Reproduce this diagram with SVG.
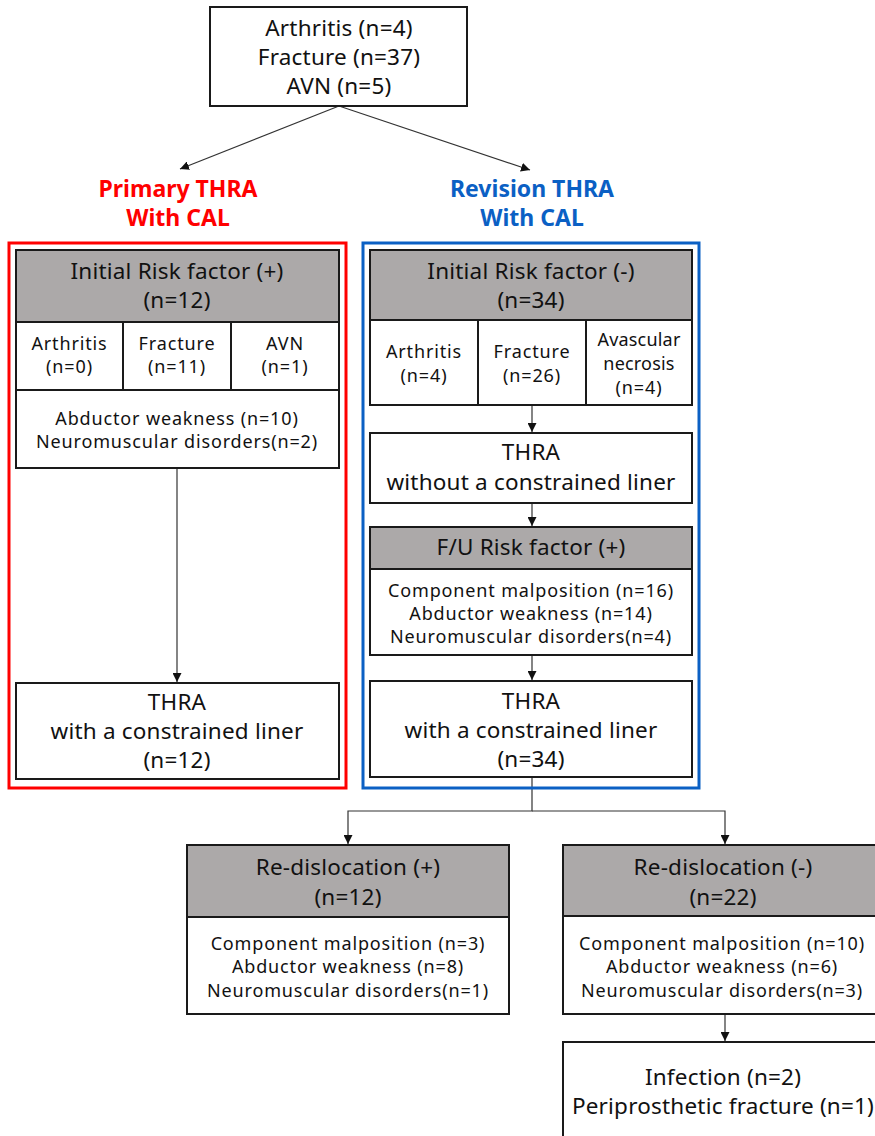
<svg xmlns="http://www.w3.org/2000/svg" width="875" height="1136" viewBox="0 0 875 1136">
<style>
text{font-family:"Noto Sans","Liberation Sans",sans-serif;fill:#111;text-anchor:middle}
.b{fill:#fff;stroke:#1a1a1a;stroke-width:2}
.g{fill:#aca9a9;stroke:#1a1a1a;stroke-width:2}
.L{font-size:22.5px;letter-spacing:0.2px}
.S{font-size:18px;letter-spacing:0.85px}
.c{fill:none;stroke:#333;stroke-width:1.2}
.ttl{font-size:23px;font-weight:bold}
</style>
<defs>
<marker id="ah" viewBox="0 0 10 10" refX="10" refY="5" markerWidth="9" markerHeight="9" markerUnits="userSpaceOnUse" orient="auto">
<path d="M0,0 L10,5 L0,10 z" fill="#111"/>
</marker>
</defs>
<rect width="875" height="1136" fill="#fff"/>

<g id="connectors">
<line class="c" x1="339" y1="106" x2="180" y2="169" marker-end="url(#ah)"/>
<line class="c" x1="339" y1="106" x2="530" y2="170" marker-end="url(#ah)"/>
<line class="c" x1="177" y1="468" x2="177" y2="682" marker-end="url(#ah)"/>
<line class="c" x1="532" y1="405" x2="532" y2="432" marker-end="url(#ah)"/>
<line class="c" x1="532" y1="503" x2="532" y2="526" marker-end="url(#ah)"/>
<line class="c" x1="532" y1="655" x2="532" y2="680" marker-end="url(#ah)"/>
<polyline class="c" points="532,777 532,811 348,811 348,844" marker-end="url(#ah)"/>
<polyline class="c" points="532,811 725,811 725,844" marker-end="url(#ah)"/>
<line class="c" x1="725" y1="1014" x2="725" y2="1041" marker-end="url(#ah)"/>
</g>

<g id="top">
<rect class="b" x="210" y="7" width="257" height="99"/>
<text class="L" x="339" y="36">Arthritis (n=4)</text>
<text class="L" x="339" y="65">Fracture (n=37)</text>
<text class="L" x="339" y="94">AVN (n=5)</text>
</g>

<g id="primary-label">
<text class="ttl" x="178" y="197" style="fill:#ff0000">Primary THRA</text>
<text class="ttl" x="178" y="226" style="fill:#ff0000">With CAL</text>
</g>
<g id="revision-label">
<text class="ttl" x="532" y="197" style="fill:#0b60c4">Revision THRA</text>
<text class="ttl" x="532" y="226" style="fill:#0b60c4">With CAL</text>
</g>

<g id="primary-frame">
<rect x="9" y="243" width="337" height="545" fill="none" stroke="#ff0000" stroke-width="3"/>
</g>
<g id="revision-frame">
<rect x="363" y="243" width="336" height="545" fill="none" stroke="#0b60c4" stroke-width="3"/>
</g>

<g id="initial-risk-plus">
<rect class="g" x="16" y="250" width="323" height="72"/>
<text class="L" x="177" y="279">Initial Risk factor (+)</text>
<text class="L" x="177" y="308">(n=12)</text>
</g>
<g id="p-arthritis">
<rect class="b" x="16" y="322" width="107" height="68"/>
<text class="S" x="69.5" y="350">Arthritis</text>
<text class="S" x="69.5" y="373">(n=0)</text>
</g>
<g id="p-fracture">
<rect class="b" x="123" y="322" width="108" height="68"/>
<text class="S" x="177" y="350">Fracture</text>
<text class="S" x="177" y="373">(n=11)</text>
</g>
<g id="p-avn">
<rect class="b" x="231" y="322" width="108" height="68"/>
<text class="S" x="285" y="350">AVN</text>
<text class="S" x="285" y="373">(n=1)</text>
</g>
<g id="p-factors">
<rect class="b" x="16" y="390" width="323" height="78"/>
<text class="S" x="177" y="425">Abductor weakness (n=10)</text>
<text class="S" x="177" y="448">Neuromuscular disorders(n=2)</text>
</g>
<g id="p-thra">
<rect class="b" x="16" y="683" width="323" height="96"/>
<text class="L" x="177" y="710">THRA</text>
<text class="L" x="177" y="739">with a constrained liner</text>
<text class="L" x="177" y="768">(n=12)</text>
</g>

<g id="initial-risk-minus">
<rect class="g" x="370" y="250" width="322" height="70"/>
<text class="L" x="531" y="279">Initial Risk factor (-)</text>
<text class="L" x="531" y="308">(n=34)</text>
</g>
<g id="r-arthritis">
<rect class="b" x="370" y="320" width="108" height="85"/>
<text class="S" x="424" y="358">Arthritis</text>
<text class="S" x="424" y="382">(n=4)</text>
</g>
<g id="r-fracture">
<rect class="b" x="478" y="320" width="108" height="85"/>
<text class="S" x="532" y="358">Fracture</text>
<text class="S" x="532" y="382">(n=26)</text>
</g>
<g id="r-avn">
<rect class="b" x="586" y="320" width="106" height="85"/>
<text class="S" x="639" y="346" style="letter-spacing:0.2px">Avascular</text>
<text class="S" x="639" y="370" style="letter-spacing:0.2px">necrosis</text>
<text class="S" x="639" y="394">(n=4)</text>
</g>
<g id="r-thra-without">
<rect class="b" x="370" y="433" width="322" height="70"/>
<text class="L" x="531" y="460">THRA</text>
<text class="L" x="531" y="490">without a constrained liner</text>
</g>
<g id="fu-risk">
<rect class="g" x="370" y="527" width="322" height="42"/>
<text class="L" x="531" y="555">F/U Risk factor (+)</text>
<rect class="b" x="370" y="569" width="322" height="86"/>
<text class="S" x="531" y="597">Component malposition (n=16)</text>
<text class="S" x="531" y="620">Abductor weakness (n=14)</text>
<text class="S" x="531" y="643">Neuromuscular disorders(n=4)</text>
</g>
<g id="r-thra-with">
<rect class="b" x="370" y="681" width="322" height="96"/>
<text class="L" x="531" y="709">THRA</text>
<text class="L" x="531" y="738">with a constrained liner</text>
<text class="L" x="531" y="767">(n=34)</text>
</g>

<g id="redislocation-plus">
<rect class="g" x="187" y="845" width="322" height="72"/>
<text class="L" x="348" y="875">Re-dislocation (+)</text>
<text class="L" x="348" y="905">(n=12)</text>
<rect class="b" x="187" y="917" width="322" height="97"/>
<text class="S" x="348" y="950">Component malposition (n=3)</text>
<text class="S" x="348" y="973">Abductor weakness (n=8)</text>
<text class="S" x="348" y="997">Neuromuscular disorders(n=1)</text>
</g>
<g id="redislocation-minus">
<rect class="g" x="563" y="845" width="324" height="71"/>
<text class="L" x="723" y="875">Re-dislocation (-)</text>
<text class="L" x="723" y="905">(n=22)</text>
<rect class="b" x="563" y="916" width="324" height="98"/>
<text class="S" x="722" y="950">Component malposition (n=10)</text>
<text class="S" x="722" y="973">Abductor weakness (n=6)</text>
<text class="S" x="722" y="997">Neuromuscular disorders(n=3)</text>
</g>
<g id="complications">
<rect class="b" x="563" y="1042" width="324" height="110"/>
<text class="L" x="723" y="1085">Infection (n=2)</text>
<text class="L" x="723" y="1114">Periprosthetic fracture (n=1)</text>
</g>
</svg>
